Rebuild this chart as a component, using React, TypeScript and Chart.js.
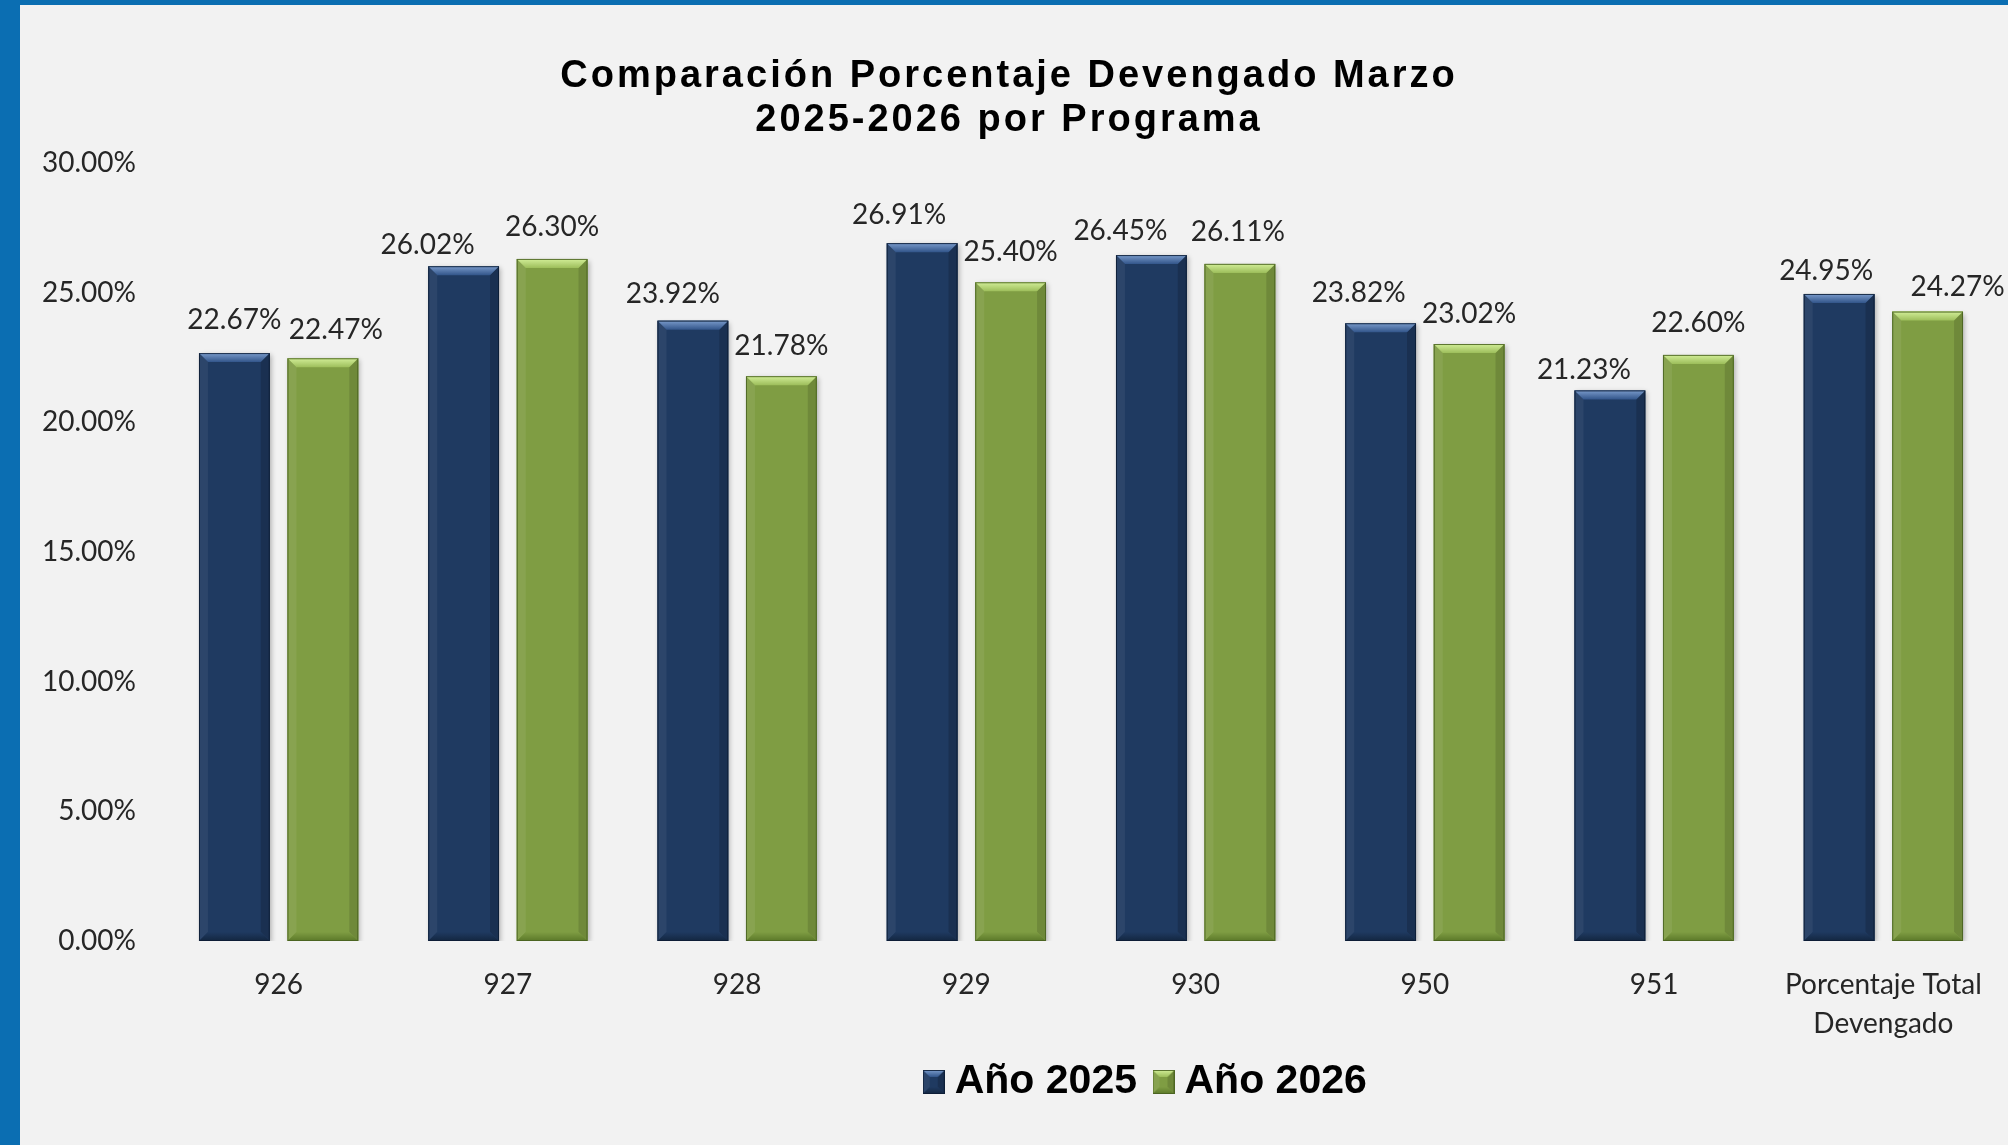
import React, { useEffect, useRef } from "react";
import { Chart, registerables } from "chart.js";

Chart.register(...registerables);

const programs: (string | string[])[] = ["926", "927", "928", "929", "930", "950", "951", ["Porcentaje Total", "Devengado"]];
const pct2025 = [22.67, 26.02, 23.92, 26.91, 26.45, 23.82, 21.23, 24.95];
const pct2026 = [22.47, 26.3, 21.78, 25.4, 26.11, 23.02, 22.6, 24.27];
const seriesNames = ["Año 2025", "Año 2026"];
const yTicks = { min: 0, max: 30, step: 5 };

// label nudges (px, relative to each bar's top-centre), as placed in the original
const labelShift = [
  [0, -36, -20, -23, -31, -22, -26, -13],
  [13, 0, 0, 0, -2, 0, 0, 30],
];
const labelGap = [
  [33, 21, 27, 28, 24, 30, 20, 23],
  [28, 32, 30, 30, 32, 30, 32, 25],
];

type Pal = { body: string; topHi: string; topLo: string; left: string; right: string; botLo: string; edge: string };
const palettes: Pal[] = [
  { body: "#1F3A61", topHi: "#7A9BCB", topLo: "#32558A", left: "rgba(255,255,255,0.06)", right: "rgba(0,0,0,0.16)", botLo: "#132640", edge: "rgba(12,28,52,0.85)" },
  { body: "#7F9D43", topHi: "#D2EE98", topLo: "#9DBE5B", left: "rgba(255,255,255,0.07)", right: "rgba(0,0,0,0.12)", botLo: "#5B7829", edge: "rgba(72,96,32,0.85)" },
];

function drawBevel(ctx: CanvasRenderingContext2D, l: number, t: number, r: number, b: number, p: Pal, bevSize: number) {
  const w = r - l;
  const h = b - t;
  if (w <= 0 || h <= 0) return;
  const bev = Math.min(bevSize, w / 3, h / 3);
  ctx.save();
  ctx.fillStyle = p.body;
  ctx.fillRect(l, t, w, h);
  ctx.beginPath();
  ctx.moveTo(l, t);
  ctx.lineTo(l + bev, t + bev);
  ctx.lineTo(l + bev, b - bev);
  ctx.lineTo(l, b);
  ctx.closePath();
  ctx.fillStyle = p.left;
  ctx.fill();
  ctx.beginPath();
  ctx.moveTo(r, t);
  ctx.lineTo(r - bev, t + bev);
  ctx.lineTo(r - bev, b - bev);
  ctx.lineTo(r, b);
  ctx.closePath();
  ctx.fillStyle = p.right;
  ctx.fill();
  const gb = ctx.createLinearGradient(0, b - bev, 0, b);
  gb.addColorStop(0, p.body);
  gb.addColorStop(1, p.botLo);
  ctx.beginPath();
  ctx.moveTo(l, b);
  ctx.lineTo(l + bev, b - bev);
  ctx.lineTo(r - bev, b - bev);
  ctx.lineTo(r, b);
  ctx.closePath();
  ctx.fillStyle = gb;
  ctx.fill();
  const gt = ctx.createLinearGradient(0, t, 0, t + bev);
  gt.addColorStop(0, p.topHi);
  gt.addColorStop(1, p.topLo);
  ctx.beginPath();
  ctx.moveTo(l, t);
  ctx.lineTo(r, t);
  ctx.lineTo(r - bev, t + bev);
  ctx.lineTo(l + bev, t + bev);
  ctx.closePath();
  ctx.fillStyle = gt;
  ctx.fill();
  ctx.strokeStyle = p.edge;
  ctx.lineWidth = 1;
  ctx.strokeRect(l + 0.5, t + 0.5, w - 1, h - 1);
  ctx.restore();
}

export default function App() {
  const canvasRef = useRef<HTMLCanvasElement | null>(null);

  useEffect(() => {
    document.body.style.margin = "0";
    const canvas = canvasRef.current;
    if (!canvas) return;

    const icons = palettes.map((p) => {
      const c = document.createElement("canvas");
      c.width = 22;
      c.height = 24;
      const cx = c.getContext("2d")!;
      drawBevel(cx, 0, 0, 22, 24, p, 7);
      return c;
    });

    const barLook = {
      id: "barLook",
      afterLayout(chart: any) {
        const tb = chart.titleBlock;
        if (tb && !tb.__spaced) {
          const orig = tb.draw.bind(tb);
          tb.draw = (...args: any[]) => {
            const ctx = chart.ctx;
            ctx.save();
            (ctx as any).letterSpacing = "3px";
            orig(...args);
            ctx.restore();
          };
          tb.__spaced = true;
        }
        const lg = chart.legend;
        if (lg) {
          lg.left += 141;
          lg.right += 141;
          lg.top -= 12.5;
          lg.bottom -= 12.5;
        }
      },
      beforeDatasetsDraw(chart: any) {
        const ctx = chart.ctx;
        ctx.save();
        ctx.shadowColor = "rgba(0,0,0,0.28)";
        ctx.shadowBlur = 5;
        ctx.shadowOffsetX = 2;
        ctx.shadowOffsetY = 2;
      },
      afterDatasetsDraw(chart: any) {
        const ctx: CanvasRenderingContext2D = chart.ctx;
        ctx.restore();
        chart.data.datasets.forEach((ds: any, di: number) => {
          const meta = chart.getDatasetMeta(di);
          meta.data.forEach((bar: any) => {
            const { x, y, base, width } = bar.getProps(["x", "y", "base", "width"], true);
            drawBevel(ctx, x - width / 2, y, x + width / 2, base, palettes[di], 9);
          });
        });
        ctx.save();
        ctx.font = "28px Lato";
        ctx.fillStyle = "#262626";
        ctx.textAlign = "center";
        ctx.textBaseline = "middle";
        chart.data.datasets.forEach((ds: any, di: number) => {
          const meta = chart.getDatasetMeta(di);
          meta.data.forEach((bar: any, i: number) => {
            const { x, y } = bar.getProps(["x", "y"], true);
            const v = ds.data[i] as number;
            ctx.fillText(`${v.toFixed(2)}%`, x + labelShift[di][i], y - labelGap[di][i]);
          });
        });
        ctx.restore();
      },
    };

    const chart = new Chart(canvas, {
      type: "bar",
      data: {
        labels: programs,
        datasets: [
          { label: seriesNames[0], data: pct2025, backgroundColor: palettes[0].body, borderWidth: 0 },
          { label: seriesNames[1], data: pct2026, backgroundColor: palettes[1].body, borderWidth: 0 },
        ],
      },
      options: {
        responsive: false,
        animation: false,
        devicePixelRatio: 1,
        layout: { padding: { left: 0, right: 10, top: 0, bottom: 20 } },
        datasets: { bar: { categoryPercentage: 0.772, barPercentage: 0.8 } },
        font: { family: "Lato" },
        plugins: {
          title: {
            display: true,
            text: ["Comparación Porcentaje Devengado Marzo", "2025-2026 por Programa"],
            color: "#000",
            font: { family: "'Liberation Sans', Arial, sans-serif", size: 38, weight: "bold", lineHeight: "44px" },
            padding: { top: 50, bottom: 20 },
          },
          legend: {
            display: true,
            position: "bottom",
            labels: {
              color: "#000",
              font: { family: "'Liberation Sans', Arial, sans-serif", size: 41, weight: "bold" },
              usePointStyle: true,
              pointStyleWidth: 1,
              boxWidth: 22,
              boxHeight: 24,
              padding: 26,
              generateLabels(ch: any) {
                const items = (Chart.defaults.plugins.legend.labels as any).generateLabels(ch);
                items.forEach((it: any, i: number) => {
                  it.pointStyle = icons[i];
                });
                return items;
              },
            },
          },
          tooltip: { enabled: false },
        },
        scales: {
          x: {
            grid: { display: false, drawTicks: false },
            border: { display: false },
            ticks: {
              color: "#262626",
              font: { family: "Lato", size: 28, lineHeight: "39px" },
              padding: 24,
              autoSkip: false,
              maxRotation: 0,
            },
            afterFit: (s: any) => {
              s.height = 107;
            },
          },
          y: {
            min: yTicks.min,
            max: yTicks.max,
            grid: { display: false, drawTicks: false },
            border: { display: false },
            ticks: {
              stepSize: yTicks.step,
              color: "#262626",
              font: { family: "Lato", size: 28 },
              padding: 28,
              callback: (v: any) => `${Number(v).toFixed(2)}%`,
            },
            afterFit: (s: any) => {
              s.width = 144;
            },
          },
        },
      },
      plugins: [barLook],
    });
    chart.draw();

    return () => chart.destroy();
  }, []);

  return (
    <div style={{ position: "relative", width: 2008, height: 1145, background: "#0B6EB2", overflow: "hidden" }}>
      <div style={{ position: "absolute", left: 20, top: 5, width: 1988, height: 1140, background: "#F2F2F2" }}>
        <canvas ref={canvasRef} width={1988} height={1140} style={{ width: 1988, height: 1140, display: "block" }} />
      </div>
    </div>
  );
}
